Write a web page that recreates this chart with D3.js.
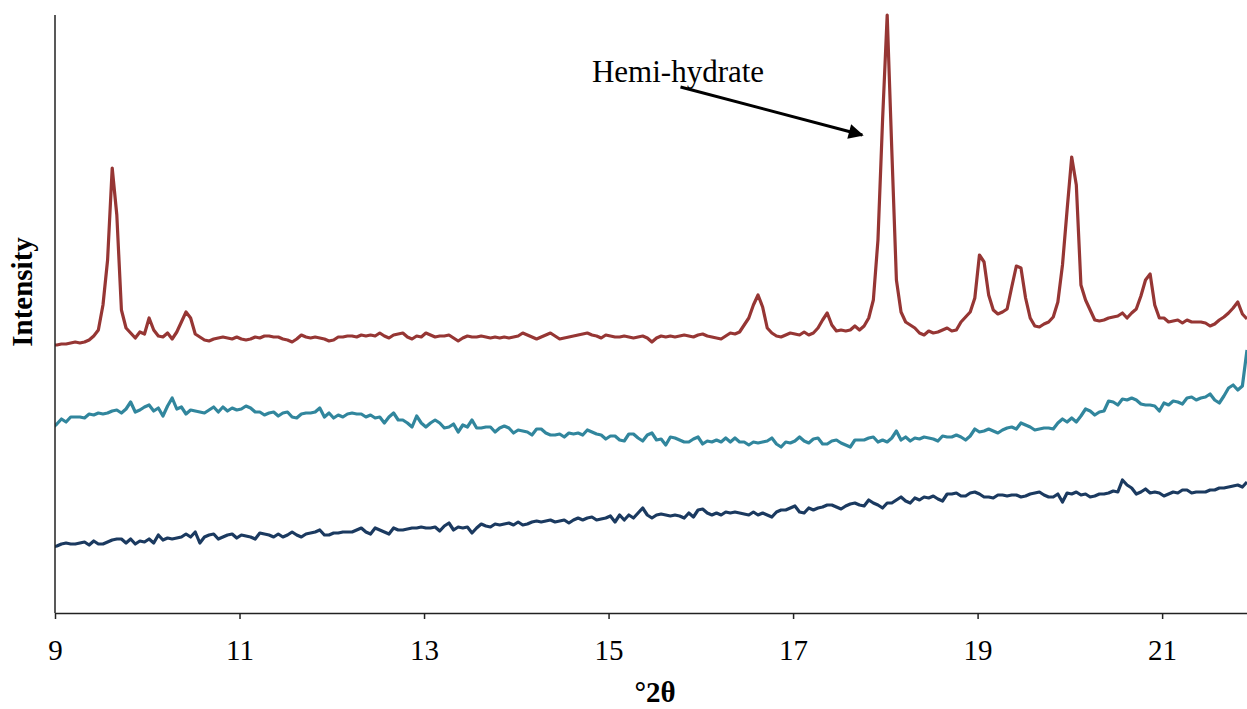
<!DOCTYPE html>
<html>
<head>
<meta charset="utf-8">
<script src="https://cdn.jsdelivr.net/npm/d3@7"></script>
<style>
    html, body { margin: 0; padding: 0; background: #fff; }
    svg { display: block; font-family: "Liberation Serif", "Times New Roman", serif; }
</style>
</head>
<body>
<svg id="xrd_svg"></svg>
<script>
"use strict";

const width = 1247;
const height = 709;
const plotLeft = 55;
const plotRight = 1247;
const plotTop = 15;
const plotBottom = 613;

// 2-theta grid of the scan (degrees)
const angleStart = 8.97;
const angleStep = 0.05;
const xTicks = [9, 11, 13, 15, 17, 19, 21];

// intensities (arbitrary units, offset per trace)
const redCounts = [
    268, 268, 269, 269, 270, 271, 270, 271, 273, 277, 283, 308, 353, 445, 398, 303, 285, 280, 275, 281,
    279, 295, 283, 277, 276, 280, 274, 281, 291, 301, 295, 279, 276, 273, 272, 274, 275, 276, 275, 274,
    276, 274, 273, 274, 276, 275, 277, 277, 276, 276, 274, 273, 271, 274, 278, 276, 275, 276, 275, 274,
    272, 273, 276, 276, 277, 277, 276, 278, 277, 278, 277, 280, 277, 275, 278, 279, 280, 276, 274, 277,
    276, 280, 278, 276, 277, 277, 278, 275, 272, 275, 277, 276, 276, 277, 276, 275, 276, 275, 276, 275,
    276, 277, 280, 278, 276, 274, 276, 278, 280, 277, 274, 275, 276, 277, 278, 279, 280, 278, 277, 275,
    278, 277, 276, 276, 277, 276, 275, 276, 277, 275, 271, 275, 277, 276, 277, 276, 277, 278, 277, 276,
    278, 279, 277, 276, 275, 274, 277, 280, 279, 281, 288, 295, 308, 318, 306, 285, 280, 277, 276, 278,
    280, 279, 278, 281, 278, 280, 285, 293, 300, 288, 282, 283, 282, 283, 287, 283, 287, 295, 313, 373,
    493, 598, 463, 333, 301, 291, 288, 285, 280, 278, 282, 280, 281, 283, 285, 282, 283, 291, 296, 301,
    315, 358, 351, 318, 303, 299, 301, 304, 326, 347, 345, 315, 295, 287, 286, 289, 291, 296, 311, 348,
    403, 456, 428, 328, 313, 303, 293, 292, 293, 295, 296, 297, 300, 295, 300, 304, 317, 333, 339, 308,
    295, 295, 291, 292, 293, 290, 293, 291, 291, 291, 290, 287, 289, 293, 296, 300, 305, 311, 299, 294
];

const tealCounts = [
    185, 189, 194, 191, 196, 196, 196, 195, 199, 198, 200, 199, 200, 202, 203, 200, 204, 211, 201, 203,
    206, 208, 202, 205, 197, 207, 215, 204, 206, 199, 203, 202, 201, 200, 203, 206, 201, 206, 202, 205,
    203, 204, 207, 205, 201, 201, 198, 200, 201, 197, 200, 201, 196, 195, 199, 200, 200, 201, 205, 196,
    200, 195, 198, 196, 199, 200, 199, 199, 196, 198, 195, 196, 190, 196, 200, 193, 193, 190, 186, 197,
    190, 186, 190, 193, 190, 185, 186, 189, 181, 188, 186, 193, 185, 185, 186, 186, 181, 185, 187, 185,
    180, 183, 182, 181, 178, 184, 184, 180, 178, 178, 179, 176, 180, 179, 180, 178, 183, 181, 179, 178,
    174, 177, 177, 173, 172, 179, 179, 175, 172, 178, 180, 173, 174, 168, 176, 175, 173, 171, 171, 174,
    176, 169, 172, 171, 173, 171, 175, 171, 175, 171, 171, 168, 171, 170, 171, 172, 175, 169, 166, 171,
    170, 172, 176, 172, 170, 174, 175, 169, 169, 172, 173, 170, 168, 166, 173, 173, 173, 175, 176, 171,
    173, 171, 175, 182, 173, 176, 172, 175, 174, 176, 175, 174, 172, 177, 176, 176, 178, 176, 173, 177,
    184, 181, 182, 184, 182, 180, 183, 185, 186, 184, 190, 188, 186, 183, 184, 185, 185, 184, 190, 194,
    191, 195, 191, 197, 204, 202, 198, 201, 202, 212, 211, 208, 214, 213, 215, 213, 209, 208, 208, 207,
    202, 210, 208, 212, 211, 209, 215, 216, 213, 215, 216, 219, 213, 210, 217, 225, 228, 223, 227, 263
];

const navyCounts = [
    66, 67, 69, 70, 69, 69, 70, 71, 68, 72, 69, 69, 71, 73, 74, 74, 70, 74, 69, 72,
    71, 74, 70, 78, 73, 75, 74, 75, 76, 79, 76, 81, 70, 76, 78, 79, 74, 76, 78, 79,
    75, 78, 77, 76, 74, 80, 79, 78, 76, 79, 76, 78, 81, 78, 76, 79, 80, 81, 83, 78,
    78, 80, 80, 81, 81, 81, 83, 85, 81, 79, 85, 83, 81, 79, 85, 83, 83, 84, 85, 85,
    86, 85, 85, 86, 82, 87, 90, 83, 86, 85, 86, 80, 85, 89, 87, 86, 89, 88, 89, 90,
    88, 91, 88, 89, 91, 92, 91, 92, 93, 91, 92, 93, 90, 93, 95, 93, 95, 96, 93, 94,
    95, 97, 91, 98, 93, 98, 95, 100, 105, 98, 95, 98, 99, 98, 97, 98, 97, 95, 100, 96,
    103, 104, 100, 98, 100, 98, 101, 100, 101, 100, 99, 98, 101, 98, 100, 98, 96, 101, 103, 103,
    105, 107, 101, 100, 105, 103, 105, 106, 108, 108, 106, 104, 107, 109, 110, 108, 107, 113, 110, 108,
    105, 110, 110, 113, 116, 112, 110, 115, 113, 116, 115, 117, 114, 112, 119, 119, 120, 117, 117, 120,
    121, 119, 116, 116, 115, 118, 118, 117, 118, 118, 116, 117, 119, 120, 121, 118, 116, 116, 119, 111,
    120, 119, 121, 118, 119, 116, 117, 119, 119, 120, 122, 121, 133, 128, 125, 119, 121, 124, 120, 121,
    120, 117, 119, 121, 120, 123, 123, 120, 121, 121, 121, 123, 123, 125, 125, 126, 127, 128, 126, 131
];

const series = [
    { name: "bottom", counts: navyCounts, color: "#1b3a60" },
    { name: "middle", counts: tealCounts, color: "#31869d" },
    { name: "hemihydrate", counts: redCounts, color: "#963634" }
];

// annotation
const noteText = "Hemi-hydrate";
const noteAt = { x: 14.82, y: 531 };
const arrowFrom = { x: 15.78, y: 526 };
const arrowTo = { x: 17.75, y: 478 };

function genChart() {
    const x_scale = d3.scaleLinear()
        .domain([9, 21.92])
        .range([plotLeft, plotRight]);

    const y_scale = d3.scaleLinear()
        .domain([0, 598])
        .range([plotBottom, plotTop]);

    const svg = d3.select("#xrd_svg")
        .attr("width", width)
        .attr("height", height);

    const defs = svg.append("defs");

    defs.append("clipPath")
        .attr("id", "plot_clip")
        .append("rect")
        .attr("x", plotLeft)
        .attr("y", 0)
        .attr("width", plotRight - plotLeft)
        .attr("height", plotBottom);

    defs.append("marker")
        .attr("id", "arrow_head")
        .attr("viewBox", "0 0 10 10")
        .attr("refX", 9)
        .attr("refY", 5)
        .attr("markerWidth", 6)
        .attr("markerHeight", 5)
        .attr("markerUnits", "strokeWidth")
        .attr("orient", "auto")
        .append("path")
        .attr("d", "M0,0 L10,5 L0,10 z")
        .attr("fill", "#000");

    const line = d3.line()
        .x((d, i) => x_scale(angleStart + i * angleStep))
        .y(d => y_scale(d));

    // traces
    svg.append("g")
        .attr("clip-path", "url(#plot_clip)")
        .selectAll("path")
        .data(series)
        .enter()
        .append("path")
        .attr("d", d => line(d.counts))
        .attr("fill", "none")
        .attr("stroke", d => d.color)
        .attr("stroke-width", 3.2)
        .attr("stroke-linejoin", "round");

    // x axis
    const axis_x = svg.append("g")
        .attr("transform", `translate(0, ${plotBottom})`)
        .call(
            d3.axisBottom(x_scale)
                .tickValues(xTicks)
                .tickSizeInner(6)
                .tickSizeOuter(0)
                .tickPadding(20)
        );
    axis_x.select(".domain").attr("stroke", "#222").attr("stroke-width", 1.5);
    axis_x.selectAll(".tick line").attr("stroke", "#222").attr("stroke-width", 1.5);
    axis_x.selectAll(".tick text")
        .attr("font-family", "Liberation Serif, Times New Roman, serif")
        .attr("font-size", 29)
        .attr("fill", "#000");

    // y axis (no ticks)
    svg.append("line")
        .attr("x1", plotLeft)
        .attr("x2", plotLeft)
        .attr("y1", plotTop)
        .attr("y2", plotBottom)
        .attr("stroke", "#222")
        .attr("stroke-width", 1.5);

    // axis titles
    svg.append("text")
        .attr("x", (plotLeft + plotRight) / 2 + 4)
        .attr("y", 702)
        .attr("text-anchor", "middle")
        .attr("font-weight", "bold")
        .attr("font-size", 29)
        .text("°2θ");

    svg.append("text")
        .attr("transform", "translate(32, 292) rotate(-90)")
        .attr("text-anchor", "middle")
        .attr("font-weight", "bold")
        .attr("font-size", 29)
        .text("Intensity");

    // annotation
    svg.append("text")
        .attr("x", x_scale(noteAt.x))
        .attr("y", y_scale(noteAt.y))
        .attr("font-size", 31)
        .text(noteText);

    svg.append("line")
        .attr("x1", x_scale(arrowFrom.x))
        .attr("y1", y_scale(arrowFrom.y))
        .attr("x2", x_scale(arrowTo.x))
        .attr("y2", y_scale(arrowTo.y))
        .attr("stroke", "#000")
        .attr("stroke-width", 3)
        .attr("marker-end", "url(#arrow_head)");
}

genChart();
</script>
</body>
</html>
